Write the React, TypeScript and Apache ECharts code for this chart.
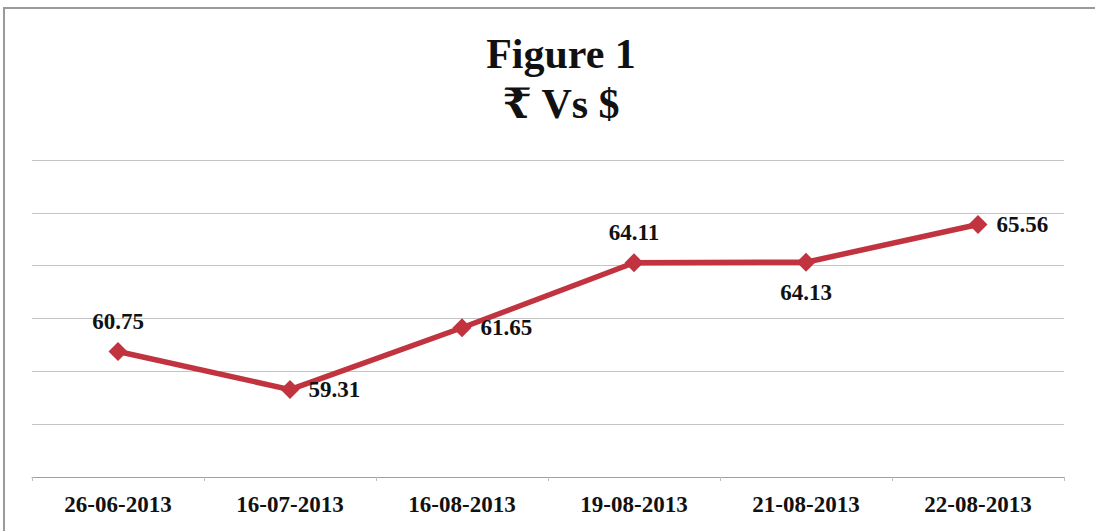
import React, { useEffect, useRef } from "react";
import * as echarts from "echarts";

const categories = ["26-06-2013", "16-07-2013", "16-08-2013", "19-08-2013", "21-08-2013", "22-08-2013"];
const values = [60.75, 59.31, 61.65, 64.11, 64.13, 65.56];
const labelPositions = ["top", "right", "right", "top", "bottom", "right"];
const titleLines = ["Figure 1", "₹ Vs $"];

const SERIF = "'Liberation Serif', 'Times New Roman', 'DejaVu Serif', serif";

export default function App() {
  const ref = useRef<HTMLDivElement>(null);
  useEffect(() => {
    if (!ref.current) return;
    const chart = echarts.init(ref.current, null, { renderer: "svg" });
    chart.setOption({
      animation: false,
      backgroundColor: "#ffffff",
      title: {
        text: titleLines.join("\n"),
        left: 556,
        textAlign: "center",
        top: 24,
        textStyle: {
          fontFamily: SERIF,
          fontWeight: "bold",
          fontSize: 42,
          lineHeight: 50,
          color: "#111111",
        },
      },
      graphic: [
        {
          type: "rect",
          shape: { x: 4, y: 8, width: 1100, height: 540 },
          style: { fill: "none", stroke: "#9a9a9a", lineWidth: 2 },
          silent: true,
        },
      ],
      grid: { left: 32, right: 31, top: 160, bottom: 54 },
      xAxis: {
        type: "category",
        data: categories,
        boundaryGap: true,
        axisLine: { show: true, lineStyle: { color: "#a0a0a0", width: 1 } },
        axisTick: { show: true, length: 4, lineStyle: { color: "#c0c0c0" } },
        axisLabel: {
          fontFamily: SERIF,
          fontWeight: "bold",
          fontSize: 23,
          color: "#111111",
          margin: 16,
        },
      },
      yAxis: {
        type: "value",
        min: 56,
        max: 68,
        interval: 2,
        axisLabel: { show: false },
        axisLine: { show: false },
        axisTick: { show: false },
        splitLine: { lineStyle: { color: "#c4c4c4", width: 1 } },
      },
      series: [
        {
          type: "line",
          data: values.map((v, i) => ({
            value: v,
            label: { position: labelPositions[i] },
          })),
          symbol: "diamond",
          symbolSize: 19,
          lineStyle: { color: "#c1343f", width: 5.5 },
          itemStyle: { color: "#c1343f" },
          label: {
            show: true,
            distance: 9,
            fontFamily: SERIF,
            fontWeight: "bold",
            fontSize: 23,
            color: "#111111",
            formatter: (p: any) => p.value.toFixed(2),
          },
        },
      ],
    });
    return () => chart.dispose();
  }, []);
  return (
    <div
      ref={ref}
      style={{ position: "absolute", left: 0, top: 0, width: 1095, height: 531 }}
    />
  );
}
